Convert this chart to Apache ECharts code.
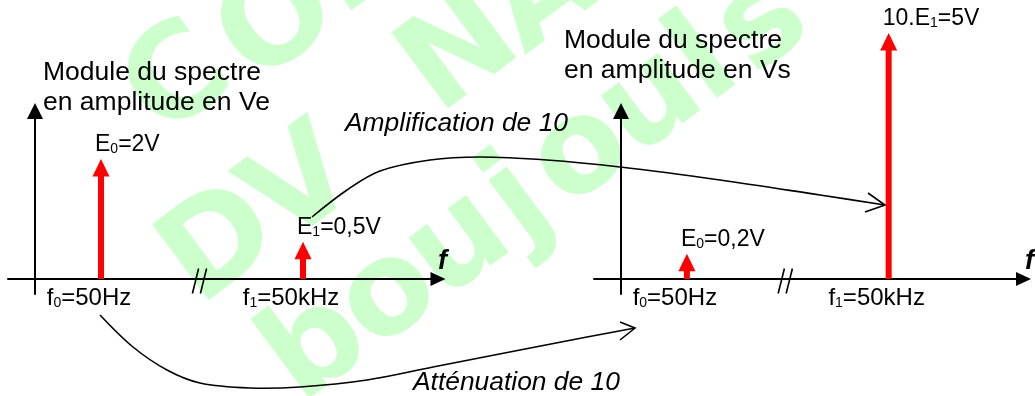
<!DOCTYPE html>
<html>
<head>
<meta charset="utf-8">
<script src="https://cdn.jsdelivr.net/npm/echarts@6/dist/echarts.min.js"></script>
<style>html,body{margin:0;padding:0;background:#fff;}#c{width:1035px;height:396px;}</style>
</head>
<body>
<div id="c"></div>
<script>
// ---- data ----
const freqPositions = [6.6, 26.8];              // f0, f1 positions on the (broken) frequency axis
const freqLabels = ['{n|f}{s|0}{n|=50Hz}', '{n|f}{s|1}{n|=50kHz}'];
const inputHeights = [2.0, 0.62];               // drawn heights of the input lines (Ve)
const inputLabels = ['{n|E}{s|0}{n|=2V}', '{n|E}{s|1}{n|=0,5V}'];
const outputHeights = [0.42, 4.1];              // drawn heights of the output lines (Vs)
const outputLabels = ['{n|E}{s|0}{n|=0,2V}', '{n|10.E}{s|1}{n|=5V}'];
const axisBreak = [16.5];
const panelTitles = ['Module du spectre\nen amplitude en Ve', 'Module du spectre\nen amplitude en Vs'];
const arrowTexts = ['Amplification de 10', 'Atténuation de 10'];
const axisName = 'f';

const FONT = '"Liberation Sans", Arial, sans-serif';
const RED = '#ff0000';

function richStyle(size) {
  return {
    n: { fontSize: size, lineHeight: size, fontFamily: FONT, fill: '#000' },
    s: { fontSize: 14, lineHeight: 12, fontFamily: FONT, fill: '#000', verticalAlign: 'bottom' }
  };
}

function makeArrowSeries(gi, heights, labels) {
  return {
    type: 'custom', xAxisIndex: gi, yAxisIndex: gi, clip: false, z: 5,
    data: freqPositions.map((x, i) => [x, heights[i]]),
    renderItem: function (params, api) {
      const i = params.dataIndex;
      const base = api.coord([api.value(0), 0]);
      const tip = api.coord([api.value(0), api.value(1)]);
      const hl = 17.5, hw = 8.5, sw = 3;
      return {
        type: 'group',
        children: [
          { type: 'rect', shape: { x: base[0] - sw, y: tip[1] + hl - 1, width: sw * 2, height: base[1] - tip[1] - hl + 1 }, style: { fill: RED } },
          { type: 'polygon', shape: { points: [[tip[0], tip[1]], [tip[0] - hw, tip[1] + hl], [tip[0] + hw, tip[1] + hl]] }, style: { fill: RED } },
          { type: 'text', x: tip[0] - 6, y: tip[1] - 14, style: { text: labels[i], rich: richStyle(23), align: 'left', verticalAlign: 'middle' } },
          { type: 'text', x: base[0] - 12, y: base[1] + 19.5, style: { text: freqLabels[i], rich: richStyle(24), align: 'center', verticalAlign: 'middle' } }
        ]
      };
    }
  };
}

function makeBreakSeries(gi) {
  return {
    type: 'custom', xAxisIndex: gi, yAxisIndex: gi, clip: false, z: 5,
    data: axisBreak.map(x => [x, 0]),
    renderItem: function (params, api) {
      const c = api.coord([api.value(0), api.value(1)]);
      const mk = d => ({ type: 'line', shape: { x1: c[0] + d + 2.6, y1: c[1] - 10.5, x2: c[0] + d - 3.6, y2: c[1] + 14.5 }, style: { stroke: '#000', lineWidth: 1.6 } });
      return { type: 'group', children: [mk(-4), mk(4)] };
    }
  };
}

function xAx(gi, gap) {
  return {
    gridIndex: gi, type: 'value', min: -2.7, max: 40.3,
    axisLine: { onZero: true, lineStyle: { color: '#000', width: 2 }, symbol: ['none', 'triangle'], symbolSize: [14, 15] },
    axisTick: { show: false }, axisLabel: { show: false }, splitLine: { show: false },
    name: axisName, nameLocation: 'end', nameGap: gap,
    nameTextStyle: { fontFamily: 'Arial, "Liberation Sans", sans-serif', fontWeight: 'bold', fontStyle: 'italic', fontSize: 27, color: '#000', align: 'left', verticalAlign: 'bottom', lineHeight: 27, padding: [0, 0, 4, 0] }
  };
}
function yAx(gi) {
  return {
    gridIndex: gi, type: 'value', min: -0.25, max: 2.8,
    axisLine: { onZero: true, lineStyle: { color: '#000', width: 2 }, symbol: ['none', 'triangle'], symbolSize: [16, 16] },
    axisTick: { show: false }, axisLabel: { show: false }, splitLine: { show: false }
  };
}

// watermark letters (decorative)
const wm = [
  ['C', 180, 84], ['O', 280, 26], ['P', 360, -38],
  ['D', 222, 248], ['V', 304, 190], ['N', 462, 56], ['A', 545, -2],
  ['b', 318, 350], ['o', 390, 298], ['u', 460, 246], ['j', 520, 203], ['o', 582, 156], ['u', 652, 104], ['l', 706, 64], ['s', 764, 26]
];
const wmEls = wm.map(w => ({
  type: 'text', x: w[1], y: w[2], rotation: 0.64, z: -1, silent: true,
  style: { text: w[0], font: 'bold 130px "DejaVu Sans", sans-serif', fill: '#ccffcc', align: 'center', verticalAlign: 'middle' }
}));

const lineStyle = { stroke: '#000', lineWidth: 1.6, fill: null };
const graphics = wmEls.concat([
  { type: 'text', x: 43, y: 57.5, style: { text: panelTitles[0], font: '26.5px ' + FONT, lineHeight: 30, fill: '#000', align: 'left', verticalAlign: 'top' } },
  { type: 'text', x: 564, y: 26, style: { text: panelTitles[1], font: '26.5px ' + FONT, lineHeight: 30, fill: '#000', align: 'left', verticalAlign: 'top' } },
  { type: 'text', x: 345, y: 124, style: { text: arrowTexts[0], font: 'italic 26.4px ' + FONT, fill: '#000', align: 'left', verticalAlign: 'middle' } },
  { type: 'text', x: 413, y: 383, style: { text: arrowTexts[1], font: 'italic 26.4px ' + FONT, fill: '#000', align: 'left', verticalAlign: 'middle' } },
  { type: 'polyline', shape: { points: [[312, 217], [347, 190], [380, 171], [430, 160], [480, 157], [547, 160], [620, 167], [720, 180], [820, 195], [885, 205]], smooth: 0.35 }, style: lineStyle },
  { type: 'polyline', shape: { points: [[868, 193], [885, 205], [865, 212]] }, style: lineStyle },
  { type: 'polyline', shape: { points: [[100, 315], [133, 347], [167, 370], [200, 383], [250, 388], [300, 387], [367, 380], [433, 367], [520, 350], [587, 337], [635, 328]], smooth: 0.35 }, style: lineStyle },
  { type: 'polyline', shape: { points: [[620, 322], [635, 328], [620, 340]] }, style: lineStyle }
]);

const chart = echarts.init(document.getElementById('c'), null, { renderer: 'canvas' });
chart.setOption({
  animation: false,
  backgroundColor: '#fff',
  grid: [
    { left: 8, top: 111, width: 430, height: 183 },
    { left: 594, top: 111, width: 430, height: 183 }
  ],
  xAxis: [xAx(0, 0), xAx(1, 1.5)],
  yAxis: [yAx(0), yAx(1)],
  series: [
    makeArrowSeries(0, inputHeights, inputLabels),
    makeArrowSeries(1, outputHeights, outputLabels),
    makeBreakSeries(0),
    makeBreakSeries(1)
  ],
  graphic: { elements: graphics }
});
</script>
</body>
</html>
